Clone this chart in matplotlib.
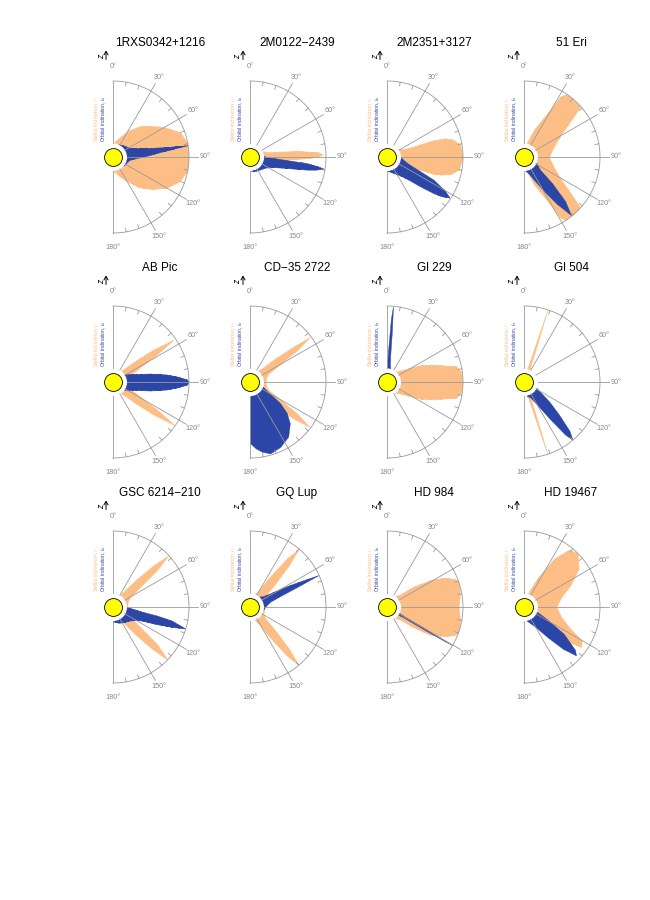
import numpy as np
import matplotlib
matplotlib.use("Agg")
import matplotlib.pyplot as plt

plt.rcParams["font.family"] = ["Liberation Sans", "DejaVu Sans"]

# targets, in panel order
names = ["1RXS0342+1216", "2M0122\u22122439", "2M2351+3127", "51 Eri",
         "AB Pic", "CD\u221235 2722", "Gl 229", "Gl 504",
         "GSC 6214\u2212210", "GQ Lup", "HD 984", "HD 19467"]

# posteriors: (inclination in deg, density scaled to the outer ring)
rxs0342_star = [(0, 0), (10, 0.05), (20, 0.13), (30, 0.27), (40, 0.42), (50, 0.56), (60, 0.74),
                (70, 0.93), (80, 1.0), (90, 1.0), (100, 1.0), (110, 0.92), (120, 0.77), (130, 0.58),
                (140, 0.41), (150, 0.23), (160, 0.12), (170, 0.04), (180, 0)]
rxs0342_orb = [(20, 0), (40, 0.03), (60, 0.08), (70, 0.2), (76, 0.39), (79, 0.6), (81, 1.0),
               (84, 0.55), (87, 0.37), (93, 0.15), (100, 0.05), (110, 0.02), (130, 0)]

m0122_star = [(65, 0), (76, 0.1), (80, 0.29), (82, 0.43), (84, 0.65), (86, 0.88), (88, 0.95),
              (90, 0.85), (91.3, 0.69), (93.8, 0.42), (97.8, 0.21), (105, 0.08), (115, 0.02), (130, 0)]
m0122_orb = [(85, 0), (90, 0.05), (93, 0.2), (95, 0.4), (96, 0.69), (98, 0.9), (99, 0.98),
             (101, 0.85), (102.6, 0.71), (105, 0.5), (108, 0.34), (112, 0.22), (117, 0.14),
             (125, 0.08), (140, 0.04), (160, 0.02), (180, 0)]

m2351_star = [(55, 0), (62, 0.05), (66, 0.12), (68, 0.2), (70, 0.55), (72, 0.75), (75, 0.87),
              (80, 0.97), (90, 1.0), (100, 0.95), (105, 0.84), (108, 0.7), (110, 0.57),
              (112, 0.25), (115, 0.1), (120, 0.03), (130, 0)]
m2351_orb = [(90, 0), (100, 0.05), (108, 0.15), (113, 0.35), (116, 0.61), (120, 0.85), (123, 0.98),
             (126, 0.85), (128, 0.72), (131.6, 0.49), (136, 0.3), (142, 0.18), (150, 0.1),
             (160, 0.05), (170, 0.02), (180, 0)]

eri51_star = [(10, 0), (20, 0.25), (28, 0.58), (31, 0.92), (34, 1.0), (48, 1.0), (52, 0.74),
              (59, 0.47), (73, 0.27), (90, 0.18), (107, 0.27), (121, 0.47), (128, 0.74),
              (132, 1.0), (146, 1.0), (149, 0.92), (152, 0.58), (160, 0.25), (170, 0)]
eri51_orb = [(115, 0), (128, 0.1), (133, 0.4), (137, 0.75), (141, 0.98), (145, 0.7), (150, 0.4),
             (158, 0.15), (165, 0.05), (175, 0)]

abpic_star = [(35, 0), (42, 0.1), (47, 0.3), (51, 0.6), (55, 0.97), (58, 0.6), (62, 0.25),
              (68, 0.1), (75, 0.05), (90, 0.03), (105, 0.05), (112, 0.1), (118, 0.25),
              (122, 0.6), (125, 0.99), (129, 0.6), (133, 0.3), (138, 0.1), (145, 0)]
abpic_orb = [(55, 0), (65, 0.08), (72, 0.2), (77, 0.39), (82, 0.65), (85, 0.81), (88, 0.97),
             (90, 1.0), (92, 0.97), (95, 0.81), (98, 0.65), (103, 0.39), (108, 0.2),
             (115, 0.08), (125, 0)]

cd35_star = [(35, 0), (42, 0.1), (47, 0.35), (51, 0.7), (53, 0.98), (56, 0.7), (60, 0.3),
             (66, 0.1), (75, 0.05), (90, 0.03), (105, 0.05), (113, 0.1), (119, 0.3),
             (124, 0.7), (127, 0.98), (130, 0.7), (134, 0.35), (140, 0.1), (148, 0)]
cd35_orb = [(110, 0), (118, 0.1), (125, 0.37), (130, 0.55), (136, 0.7), (145, 0.85),
            (155, 0.93), (164, 0.97), (170, 0.92), (175, 0.85), (180, 0.76)]

gl229_star = [(35, 0), (45, 0.03), (55, 0.15), (63, 0.37), (70, 0.6), (74, 0.74), (77, 0.92),
              (82, 0.98), (90, 0.99), (98, 0.98), (103, 0.92), (106, 0.74), (110, 0.6),
              (117, 0.37), (125, 0.15), (135, 0.03), (145, 0)]
gl229_orb = [(0, 0.05), (2, 0.3), (3.5, 0.8), (4.5, 1.0), (5.5, 0.6), (7, 0.2), (10, 0.05), (15, 0)]

gl504_star = [(10, 0), (15, 0.05), (17, 0.4), (18, 1.0), (19.5, 0.4), (22, 0.05), (30, 0),
              (150, 0), (158, 0.05), (160.5, 0.4), (162, 1.0), (163, 0.4), (165, 0.05), (170, 0)]
gl504_orb = [(115, 0), (122, 0.1), (128, 0.3), (133, 0.55), (137, 0.85), (140, 0.99),
             (142, 0.85), (145, 0.5), (150, 0.2), (158, 0.05), (170, 0)]

gsc6214_star = [(28, 0), (35, 0.1), (40, 0.35), (44, 0.7), (47, 1.0), (50, 0.7), (54, 0.3),
                (60, 0.1), (70, 0.03), (90, 0.01), (110, 0.03), (120, 0.1), (126, 0.3),
                (130, 0.7), (134, 1.0), (137, 0.7), (141, 0.35), (146, 0.1), (152, 0)]
gsc6214_orb = [(90, 0), (95, 0.1), (99, 0.25), (101, 0.5), (103, 0.75), (106.6, 1.0), (109, 0.75),
               (112, 0.5), (115, 0.3), (120, 0.2), (130, 0.12), (145, 0.08), (160, 0.05),
               (175, 0.02), (180, 0)]

gqlup_star = [(20, 0), (28, 0.1), (33, 0.35), (37, 0.75), (40, 1.0), (43, 0.7), (47, 0.35),
              (53, 0.1), (60, 0.03), (90, 0.01), (120, 0.03), (127, 0.1), (133, 0.35),
              (137, 0.7), (140, 1.0), (143, 0.75), (147, 0.35), (152, 0.1), (160, 0)]
gqlup_orb = [(40, 0), (50, 0.05), (55, 0.15), (59, 0.35), (62, 0.6), (65, 1.0), (67, 0.6),
             (70, 0.3), (75, 0.12), (85, 0.04), (100, 0)]

hd984_star = [(35, 0), (45, 0.05), (52, 0.3), (58, 0.6), (63, 0.82), (68, 0.97), (72, 1.0),
              (80, 0.97), (90, 0.93), (100, 0.97), (108, 1.0), (112, 0.97), (117, 0.82),
              (123, 0.6), (128, 0.3), (135, 0.05), (145, 0)]
hd984_orb = [(116, 0), (118.5, 0.1), (119.5, 0.5), (120.4, 0.98), (121.3, 0.5), (122.3, 0.1), (125, 0)]

hd19467_star = [(15, 0), (25, 0.3), (32, 0.7), (38, 0.95), (45, 1.0), (55, 0.85), (65, 0.6),
                (75, 0.4), (90, 0.3), (105, 0.4), (115, 0.6), (120, 0.85), (125, 0.9),
                (130, 0.6), (140, 0.25), (150, 0.05), (160, 0)]
hd19467_orb = [(110, 0), (118, 0.2), (124, 0.55), (130, 0.85), (133, 0.92), (137, 0.7),
               (142, 0.4), (150, 0.15), (160, 0.05), (170, 0)]

stars = [rxs0342_star, m0122_star, m2351_star, eri51_star, abpic_star, cd35_star,
         gl229_star, gl504_star, gsc6214_star, gqlup_star, hd984_star, hd19467_star]
orbits = [rxs0342_orb, m0122_orb, m2351_orb, eri51_orb, abpic_orb, cd35_orb,
          gl229_orb, gl504_orb, gsc6214_orb, gqlup_orb, hd984_orb, hd19467_orb]

ORANGE = "#FDBE85"
BLUE = "#2B46A6"
GREY = "#9a9a9a"
R0 = -0.22  # hole round the star

W, H = 650, 900
cx0, cy0 = 113, 157   # centre of first panel, pixels from top left
step_x, step_y = 137, 225
R = 76                # radius of outer ring in pixels

fig = plt.figure(figsize=(W / 100, H / 100), dpi=100)


def draw_post(ax, pts, color):
    deg, r = np.array(pts, dtype=float).T
    ax.fill_between(np.deg2rad(deg), 0, r, color=color, lw=0.3, edgecolor=color, zorder=2)


# polar axes keep a square box, the half disc sits in the middle of it
def fx(dx):
    return (dx + R / 2) / (2 * R)


def fy(dy):
    return (dy + R) / (2 * R)


for k, name in enumerate(names):
    row, col = divmod(k, 4)
    cx = cx0 + col * step_x
    cy = cy0 + row * step_y
    ax = fig.add_axes([(cx - R / 2) / W, (H - cy - R) / H, 2 * R / W, 2 * R / H],
                      projection="polar")
    ax.set_thetamin(0)
    ax.set_thetamax(180)
    ax.set_theta_zero_location("N")
    ax.set_theta_direction(-1)
    ax.set_rorigin(R0)
    ax.axis("off")

    # posteriors
    draw_post(ax, stars[k], ORANGE)
    draw_post(ax, orbits[k], BLUE)

    # frame: outer ring, axis line, grid and ticks
    th = np.linspace(0, np.pi, 200)
    ax.plot(th, np.ones_like(th), color=GREY, lw=0.6, clip_on=False, zorder=3)
    for d in (0, 180):
        ax.plot([np.deg2rad(d)] * 2, [0, 1], color=GREY, lw=0.6, clip_on=False, zorder=3)
        ax.text(np.deg2rad(d), 1.225, f"{d}\u00b0", ha="center", va="center",
                fontsize=5.2, color="#888888", clip_on=False)
    for d in range(30, 180, 30):
        ax.plot([np.deg2rad(d)] * 2, [0, 1.14], color=GREY, lw=0.6, clip_on=False, zorder=3)
        ax.text(np.deg2rad(d), 1.26, f"{d}\u00b0", ha="center", va="center",
                fontsize=5.2, color="#888888", clip_on=False)
    for d in range(10, 180, 10):
        if d % 30:
            ax.plot([np.deg2rad(d)] * 2, [0.94, 1.0], color=GREY, lw=0.6, clip_on=False, zorder=3)

    # the star
    ax.scatter([0], [R0], s=165, color="#FFFF00", edgecolors="black", linewidths=0.6,
               zorder=5, clip_on=False)
    ax.set_ylim(0, 1)

    ax.text(fx(47), fy(114), name, transform=ax.transAxes, ha="center", va="center", fontsize=8.5)
    ax.text(fx(-12), fy(101.5), "$z$", transform=ax.transAxes, rotation=90, ha="center",
            va="center", fontsize=5.5)
    ax.annotate("", xy=(fx(-7), fy(106.5)), xytext=(fx(-7), fy(97.5)), xycoords="axes fraction",
                arrowprops=dict(arrowstyle="->,head_length=0.25,head_width=0.15", lw=0.7,
                                color="black", shrinkA=0, shrinkB=0))
    ax.text(fx(-16.5), fy(15), "Stellar inclination, $i_\\star$", transform=ax.transAxes,
            rotation=90, ha="center", va="bottom", fontsize=3.6, color=ORANGE)
    ax.text(fx(-9.3), fy(15), "Orbital inclination, $i_o$", transform=ax.transAxes,
            rotation=90, ha="center", va="bottom", fontsize=3.6, color=BLUE)

fig.savefig("out.png", dpi=100)
